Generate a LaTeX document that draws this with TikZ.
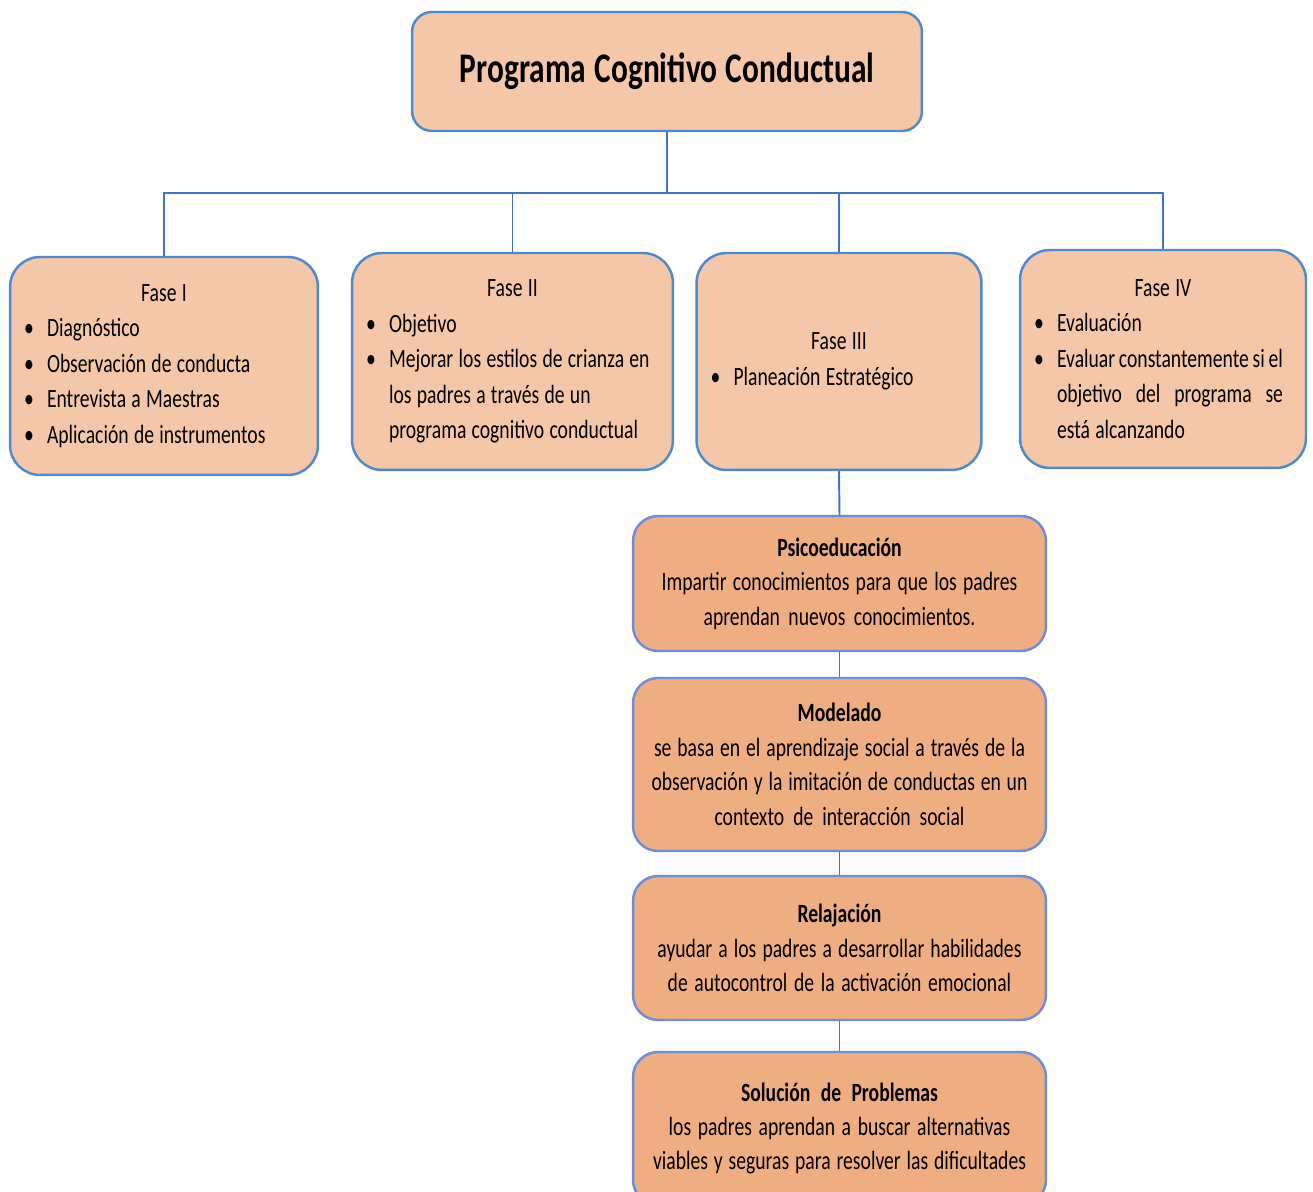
\documentclass[tikz,border=0pt]{standalone}
\usepackage{fontspec}
\setmainfont{Carlito}[FakeStretch=0.745, WordSpace=1.2]
\usetikzlibrary{positioning}
\definecolor{lineblue}{HTML}{4472C4}
\definecolor{boxblue}{HTML}{4E8ACF}
\definecolor{stepblue}{HTML}{6F8DD6}
\definecolor{mypeach}{HTML}{F4C7A8}
\definecolor{mysalmon}{HTML}{EEAE82}
\tikzset{
	fasebox/.style={draw=boxblue, fill=mypeach, line width=1.4pt, rounded corners=0.6cm,
	  inner xsep=0.28cm, align=left, font=\fontsize{15}{20.2}\selectfont,
	  execute at begin node={\spaceskip=0pt\xspaceskip=0pt}}
}
\tikzset{
	stepbox/.style={draw=stepblue, fill=mysalmon, line width=1.4pt, rounded corners=0.5cm,
	  text width=7.9cm, minimum width=8.26cm, align=center, font=\fontsize{15}{19.6}\selectfont,
	  execute at begin node={\spaceskip=0pt\xspaceskip=0pt}}
}
\tikzset{
	conn/.style={draw=lineblue, line width=1.1pt}
}
\newcommand{\itm}{\makebox[0.46cm][l]{\textbullet}}
\newcommand{\cont}{\hspace*{0.46cm}}
\newcommand{\head}[1]{\makebox[\hsize]{#1}}

\begin{document}
\begin{tikzpicture}[x=0.02cm, y=-0.02cm]
      \useasboundingbox (0,0) rectangle (1313,1192);

      % program title
      \node[draw=boxblue, fill=mypeach, line width=1.4pt, rounded corners=0.4cm,
            minimum width=10.2cm, minimum height=2.38cm,
            font=\fontsize{24}{30}\selectfont\bfseries] (prog) at (667,71.5) {Programa Cognitivo Conductual};

      % the four phases
      \node[fasebox, text width=5.6cm, minimum height=4.36cm] (f1) at (164,366) {\head{Fase I}\\
        \itm Diagnóstico\\
        \itm Observación de conducta\\
        \itm Entrevista a Maestras\\
        \itm Aplicación de instrumentos};
      \node[fasebox, text width=5.86cm, minimum height=4.34cm] (f2) at (512.5,361.5) {\head{Fase II}\\
        \itm Objetivo\\
        \itm Mejorar los estilos de crianza en\\
        \cont los padres a través de un\\
        \cont programa cognitivo conductual};
      \node[fasebox, text width=5.14cm, minimum height=4.34cm] (f3) at (839,361.5) {\head{Fase III}\\
        \itm Planeación Estratégico};
      \node[fasebox, text width=5.16cm, minimum height=4.36cm] (f4) at (1163,359) {\head{Fase IV}\\
        \itm Evaluación\\
        \itm\makebox[\dimexpr\hsize-0.64cm][s]{Evaluar constantemente si el}\\
        \cont\makebox[\dimexpr\hsize-0.64cm][s]{objetivo\hfill del\hfill programa\hfill se}\\
        \cont está alcanzando};

      % steps of phase III
      \node[stepbox, minimum height=2.7cm] (psico) at (839.5,583.5) {\textbf{Psicoeducación}\\
        Impartir conocimientos para que los padres\\aprendan nuevos conocimientos.};
      \node[stepbox, minimum height=3.46cm] (model) at (839.5,764.5) {\textbf{Modelado}\\
        se basa en el aprendizaje social a través de la\\observación y la imitación de conductas en un\\contexto de interacción social};
      \node[stepbox, minimum height=2.88cm] (relaj) at (839.5,948) {\textbf{Relajación}\\
        ayudar a los padres a desarrollar habilidades\\de autocontrol de la activación emocional};
      \node[stepbox, minimum height=3.06cm] (solu) at (839.5,1128.5) {\textbf{Solución de Problemas}\\
        los padres aprendan a buscar alternativas\\viables y seguras para resolver las dificultades};

      % connectors
      \coordinate (bus) at (667,193);
      \draw[conn] (prog.south) -- (bus);
      \foreach \f in {f1,f2,f3,f4} {
        \draw[conn] (\f.north) |- (bus);
      }
      \draw[conn] (f3.south) -- (psico.north);
      \draw[conn] (psico) -- (model);
      \draw[conn] (model) -- (relaj);
      \draw[conn] (relaj) -- (solu);
    \end{tikzpicture}
\end{document}
